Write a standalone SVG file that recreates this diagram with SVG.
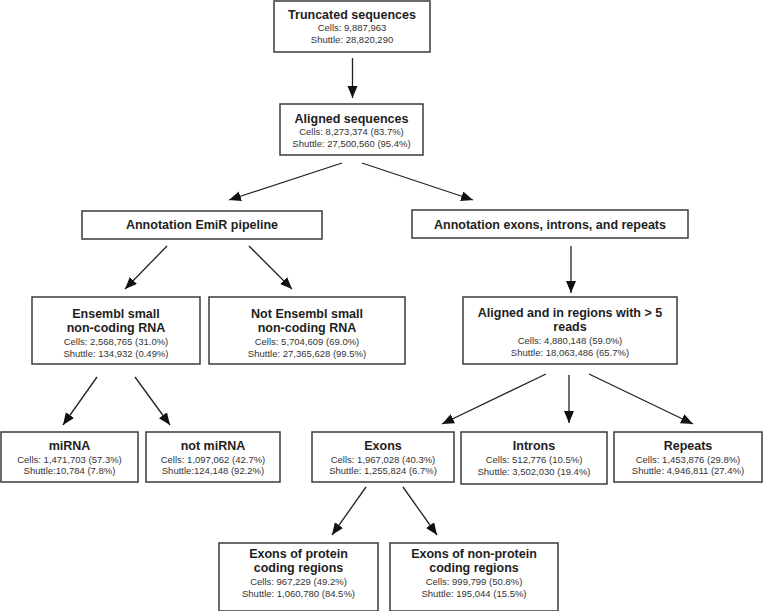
<svg xmlns="http://www.w3.org/2000/svg" width="763" height="611" viewBox="0 0 763 611">
<defs>
<style>
.box{fill:#fff;stroke:#3a3a3a;stroke-width:1.5}
.t{font-family:"Liberation Sans",Arial,sans-serif;font-weight:bold;font-size:12.5px;fill:#1e1e1e;text-anchor:middle}
.s{font-family:"Liberation Sans",Arial,sans-serif;font-size:9.5px;fill:#333;text-anchor:middle}
.c{stroke:#222;stroke-width:1.3;fill:none;marker-end:url(#ah)}
</style>
<marker id="ah" markerUnits="userSpaceOnUse" markerWidth="14" markerHeight="12" refX="12" refY="5" orient="auto">
<path d="M0,0 L12,5 L0,10 Z" fill="#111"/>
</marker>
</defs>
<g id="connectors">
<line class="c" x1="352.5" y1="58" x2="352.5" y2="98"/>
<line class="c" x1="342" y1="163" x2="229" y2="200"/>
<line class="c" x1="362" y1="163" x2="473" y2="200"/>
<line class="c" x1="167" y1="246" x2="125" y2="289"/>
<line class="c" x1="249" y1="246" x2="292" y2="289"/>
<line class="c" x1="571" y1="246" x2="571" y2="293"/>
<line class="c" x1="97" y1="377" x2="63" y2="425"/>
<line class="c" x1="135" y1="377" x2="170" y2="425"/>
<line class="c" x1="546" y1="374" x2="442" y2="424"/>
<line class="c" x1="569" y1="375" x2="569" y2="423"/>
<line class="c" x1="589" y1="374" x2="693" y2="424"/>
<line class="c" x1="366" y1="487" x2="332" y2="535"/>
<line class="c" x1="403" y1="487" x2="437" y2="535"/>
</g>
<g id="truncated">
<rect class="box" x="274" y="1" width="156" height="51"/>
<text class="t" x="352" y="19">Truncated sequences</text>
<text class="s" x="352" y="31">Cells: 9,887,963</text>
<text class="s" x="352" y="43">Shuttle: 28,820,290</text>
</g>
<g id="aligned">
<rect class="box" x="280" y="104" width="143" height="51"/>
<text class="t" x="351.5" y="123">Aligned sequences</text>
<text class="s" x="351.5" y="135">Cells: 8,273,374 (83.7%)</text>
<text class="s" x="351.5" y="147">Shuttle: 27,500,560 (95.4%)</text>
</g>
<g id="emir">
<rect class="box" x="82" y="211" width="240" height="28"/>
<text class="t" x="202" y="229">Annotation EmiR pipeline</text>
</g>
<g id="annot-exons">
<rect class="box" x="412" y="210" width="276" height="28"/>
<text class="t" x="550" y="229">Annotation exons, introns, and repeats</text>
</g>
<g id="ensembl">
<rect class="box" x="32" y="297" width="168" height="67"/>
<text class="t" x="116" y="318">Ensembl small</text>
<text class="t" x="116" y="332">non-coding RNA</text>
<text class="s" x="116" y="345">Cells: 2,568,765 (31.0%)</text>
<text class="s" x="116" y="357">Shuttle: 134,932 (0.49%)</text>
</g>
<g id="not-ensembl">
<rect class="box" x="209" y="297" width="196" height="67"/>
<text class="t" x="307" y="318">Not Ensembl small</text>
<text class="t" x="307" y="332">non-coding RNA</text>
<text class="s" x="307" y="345">Cells: 5,704,609 (69.0%)</text>
<text class="s" x="307" y="357">Shuttle: 27,365,628 (99.5%)</text>
</g>
<g id="aligned-regions">
<rect class="box" x="463" y="297" width="214" height="67"/>
<text class="t" x="570" y="317">Aligned and in regions with &gt; 5</text>
<text class="t" x="570" y="331">reads</text>
<text class="s" x="570" y="344">Cells: 4,880,148 (59.0%)</text>
<text class="s" x="570" y="356">Shuttle: 18,063,486 (65.7%)</text>
</g>
<g id="mirna">
<rect class="box" x="1" y="432" width="137" height="50"/>
<text class="t" x="69.5" y="450">miRNA</text>
<text class="s" x="69.5" y="463">Cells: 1,471,703 (57.3%)</text>
<text class="s" x="69.5" y="474">Shuttle:10,784 (7.8%)</text>
</g>
<g id="not-mirna">
<rect class="box" x="146" y="432" width="134" height="50"/>
<text class="t" x="213" y="450">not miRNA</text>
<text class="s" x="213" y="463">Cells: 1,097,062 (42.7%)</text>
<text class="s" x="213" y="474">Shuttle:124,148 (92.2%)</text>
</g>
<g id="exons">
<rect class="box" x="312" y="432" width="142" height="50"/>
<text class="t" x="383" y="450">Exons</text>
<text class="s" x="383" y="463">Cells: 1,967,028 (40.3%)</text>
<text class="s" x="383" y="474">Shuttle: 1,255,824 (6.7%)</text>
</g>
<g id="introns">
<rect class="box" x="461" y="432" width="146" height="52"/>
<text class="t" x="534" y="450">Introns</text>
<text class="s" x="534" y="463">Cells: 512,776 (10.5%)</text>
<text class="s" x="534" y="475">Shuttle: 3,502,030 (19.4%)</text>
</g>
<g id="repeats">
<rect class="box" x="614" y="432" width="148" height="50"/>
<text class="t" x="688" y="450">Repeats</text>
<text class="s" x="688" y="463">Cells: 1,453,876 (29.8%)</text>
<text class="s" x="688" y="474">Shuttle: 4,946,811 (27.4%)</text>
</g>
<g id="exons-protein">
<rect class="box" x="219" y="543" width="159" height="68"/>
<text class="t" x="298.5" y="558">Exons of protein</text>
<text class="t" x="298.5" y="572">coding regions</text>
<text class="s" x="298.5" y="585">Cells: 967,229 (49.2%)</text>
<text class="s" x="298.5" y="597">Shuttle: 1,060,780 (84.5%)</text>
</g>
<g id="exons-nonprotein">
<rect class="box" x="390" y="543" width="168" height="68"/>
<text class="t" x="474" y="558">Exons of non-protein</text>
<text class="t" x="474" y="572">coding regions</text>
<text class="s" x="474" y="585">Cells: 999,799 (50.8%)</text>
<text class="s" x="474" y="597">Shuttle: 195,044 (15.5%)</text>
</g>
</svg>
